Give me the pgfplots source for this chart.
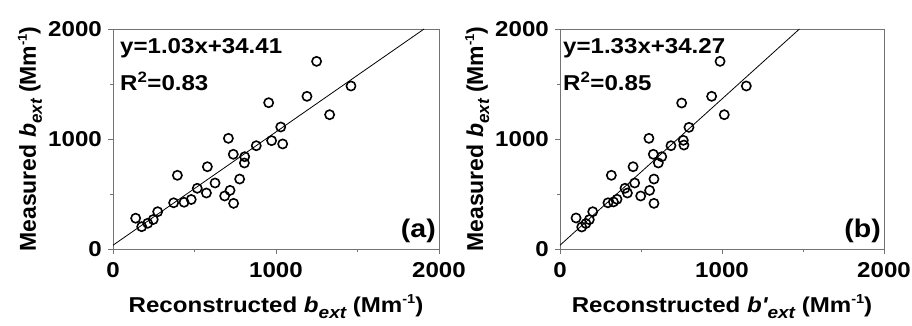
\documentclass[border=0pt]{standalone}
\usepackage{fontspec}
\setmainfont{Liberation Sans}[FakeStretch=1.12]
\newfontfamily\plainfont{Liberation Sans}
\usepackage{pgfplots}
\pgfplotsset{compat=1.18}
\newcommand\F{\fontsize{21.5}{25}\selectfont\bfseries}
\newcommand\FY{\plainfont\fontsize{23}{27}\selectfont\bfseries}
\newcommand\sub[1]{\raisebox{-6pt}{\fontsize{17}{17}\selectfont\bfseries\itshape #1}}
\newcommand\supm{\raisebox{9pt}{\fontsize{13}{13}\selectfont\bfseries -1}}
\definecolor{framec}{gray}{0.45}
\pgfplotsset{
  myaxis/.style={
    scale only axis, height=220pt, anchor=south west,
    xmin=0, xmax=2000, ymin=0, ymax=2000,
    xtick={0,1000,2000}, ytick={0,1000,2000},
    minor xtick={500,1500}, minor ytick={500,1500},
    tick align=outside, major tick length=5pt, minor tick length=3pt,
    xtick pos=bottom, ytick pos=left,
    axis line style={framec, line width=1pt},
    every tick/.style={framec, line width=1pt},
    /pgf/number format/assume math mode=true,
    /pgf/number format/1000 sep={},
    tick label style={font=\F, black},
    yticklabel style={anchor=east, inner sep=0pt, xshift=-6pt},
    xticklabel style={anchor=north, inner sep=0pt, yshift=-8pt},
    every axis x label/.style={at={([yshift=-63pt]axis description cs:0.5,0)}, anchor=base, font=\F},
    every axis y label/.style={at={([xshift=-77pt]axis description cs:0,0.5)}, rotate=90, anchor=base, font=\FY},
    clip=false,
  },
  pts/.style={only marks, mark=o, mark size=4.6pt, mark options={line width=1.6pt, black}},
  fit/.style={black, line width=0.8pt, no marks},
}
\begin{document}
\begin{tikzpicture}
\useasboundingbox (0,0) rectangle (912pt,325pt);
% ---------------- panel (a) ----------------
\begin{axis}[myaxis, at={(113pt,76pt)}, width=326pt,
  xlabel={Reconstructed \textit{b}\sub{ext} (Mm\supm)},
  ylabel={Measured \textit{b}\sub{ext} (Mm\supm)}]
\addplot[fit] coordinates {(0,34.41) (1908.3,2000)};
\addplot[pts] coordinates {
(139,280) (176,203) (213,234) (247,268) (274,339) (372,420) (395,670)
(436,425) (480,450) (517,552) (573,509) (579,748) (626,600) (685,482)
(718,533) (708,1006) (740,415) (738,861) (777,636) (806,782) (808,839)
(879,939) (955,1330) (973,985) (1029,1109) (1041,955) (1190,1388)
(1249,1706) (1329,1221) (1460,1482)
};
\node[font=\F, anchor=base west, inner sep=0pt] at ([xshift=7pt,yshift=-24pt]rel axis cs:0,1) {y=1.03x+34.41};
\node[font=\F, anchor=base west, inner sep=0pt] at ([xshift=7pt,yshift=-61pt]rel axis cs:0,1) {R\textsuperscript{2}=0.83};
\node[font=\fontsize{25.5}{28}\selectfont\bfseries, anchor=base east, inner sep=0pt] at ([xshift=-3pt,yshift=12pt]rel axis cs:1,0) {(a)};
\end{axis}
% ---------------- panel (b) ----------------
\begin{axis}[myaxis, at={(560pt,76pt)}, width=324pt,
  xlabel={Reconstructed \textit{b\textquotesingle}\sub{ext} (Mm\supm)},
  ylabel={Measured \textit{b}\sub{ext} (Mm\supm)}]
\addplot[fit] coordinates {(0,34.27) (1478,2000)};
\addplot[pts] coordinates {
(99,282) (134,200) (160,232) (181,267) (202,339) (296,420) (317,670)
(330,428) (352,452) (401,552) (416,509) (451,748) (461,600) (498,482)
(553,533) (549,1006) (580,415) (576,861) (580,636) (607,782) (628,839)
(685,939) (751,1327) (761,988) (765,945) (796,1106) (936,1388)
(988,1706) (1014,1221) (1150,1482)
};
\node[font=\F, anchor=base west, inner sep=0pt] at ([xshift=3pt,yshift=-24pt]rel axis cs:0,1) {y=1.33x+34.27};
\node[font=\F, anchor=base west, inner sep=0pt] at ([xshift=3pt,yshift=-61pt]rel axis cs:0,1) {R\textsuperscript{2}=0.85};
\node[font=\fontsize{25.5}{28}\selectfont\bfseries, anchor=base east, inner sep=0pt] at ([xshift=-3pt,yshift=12pt]rel axis cs:1,0) {(b)};
\end{axis}
\end{tikzpicture}
\end{document}
